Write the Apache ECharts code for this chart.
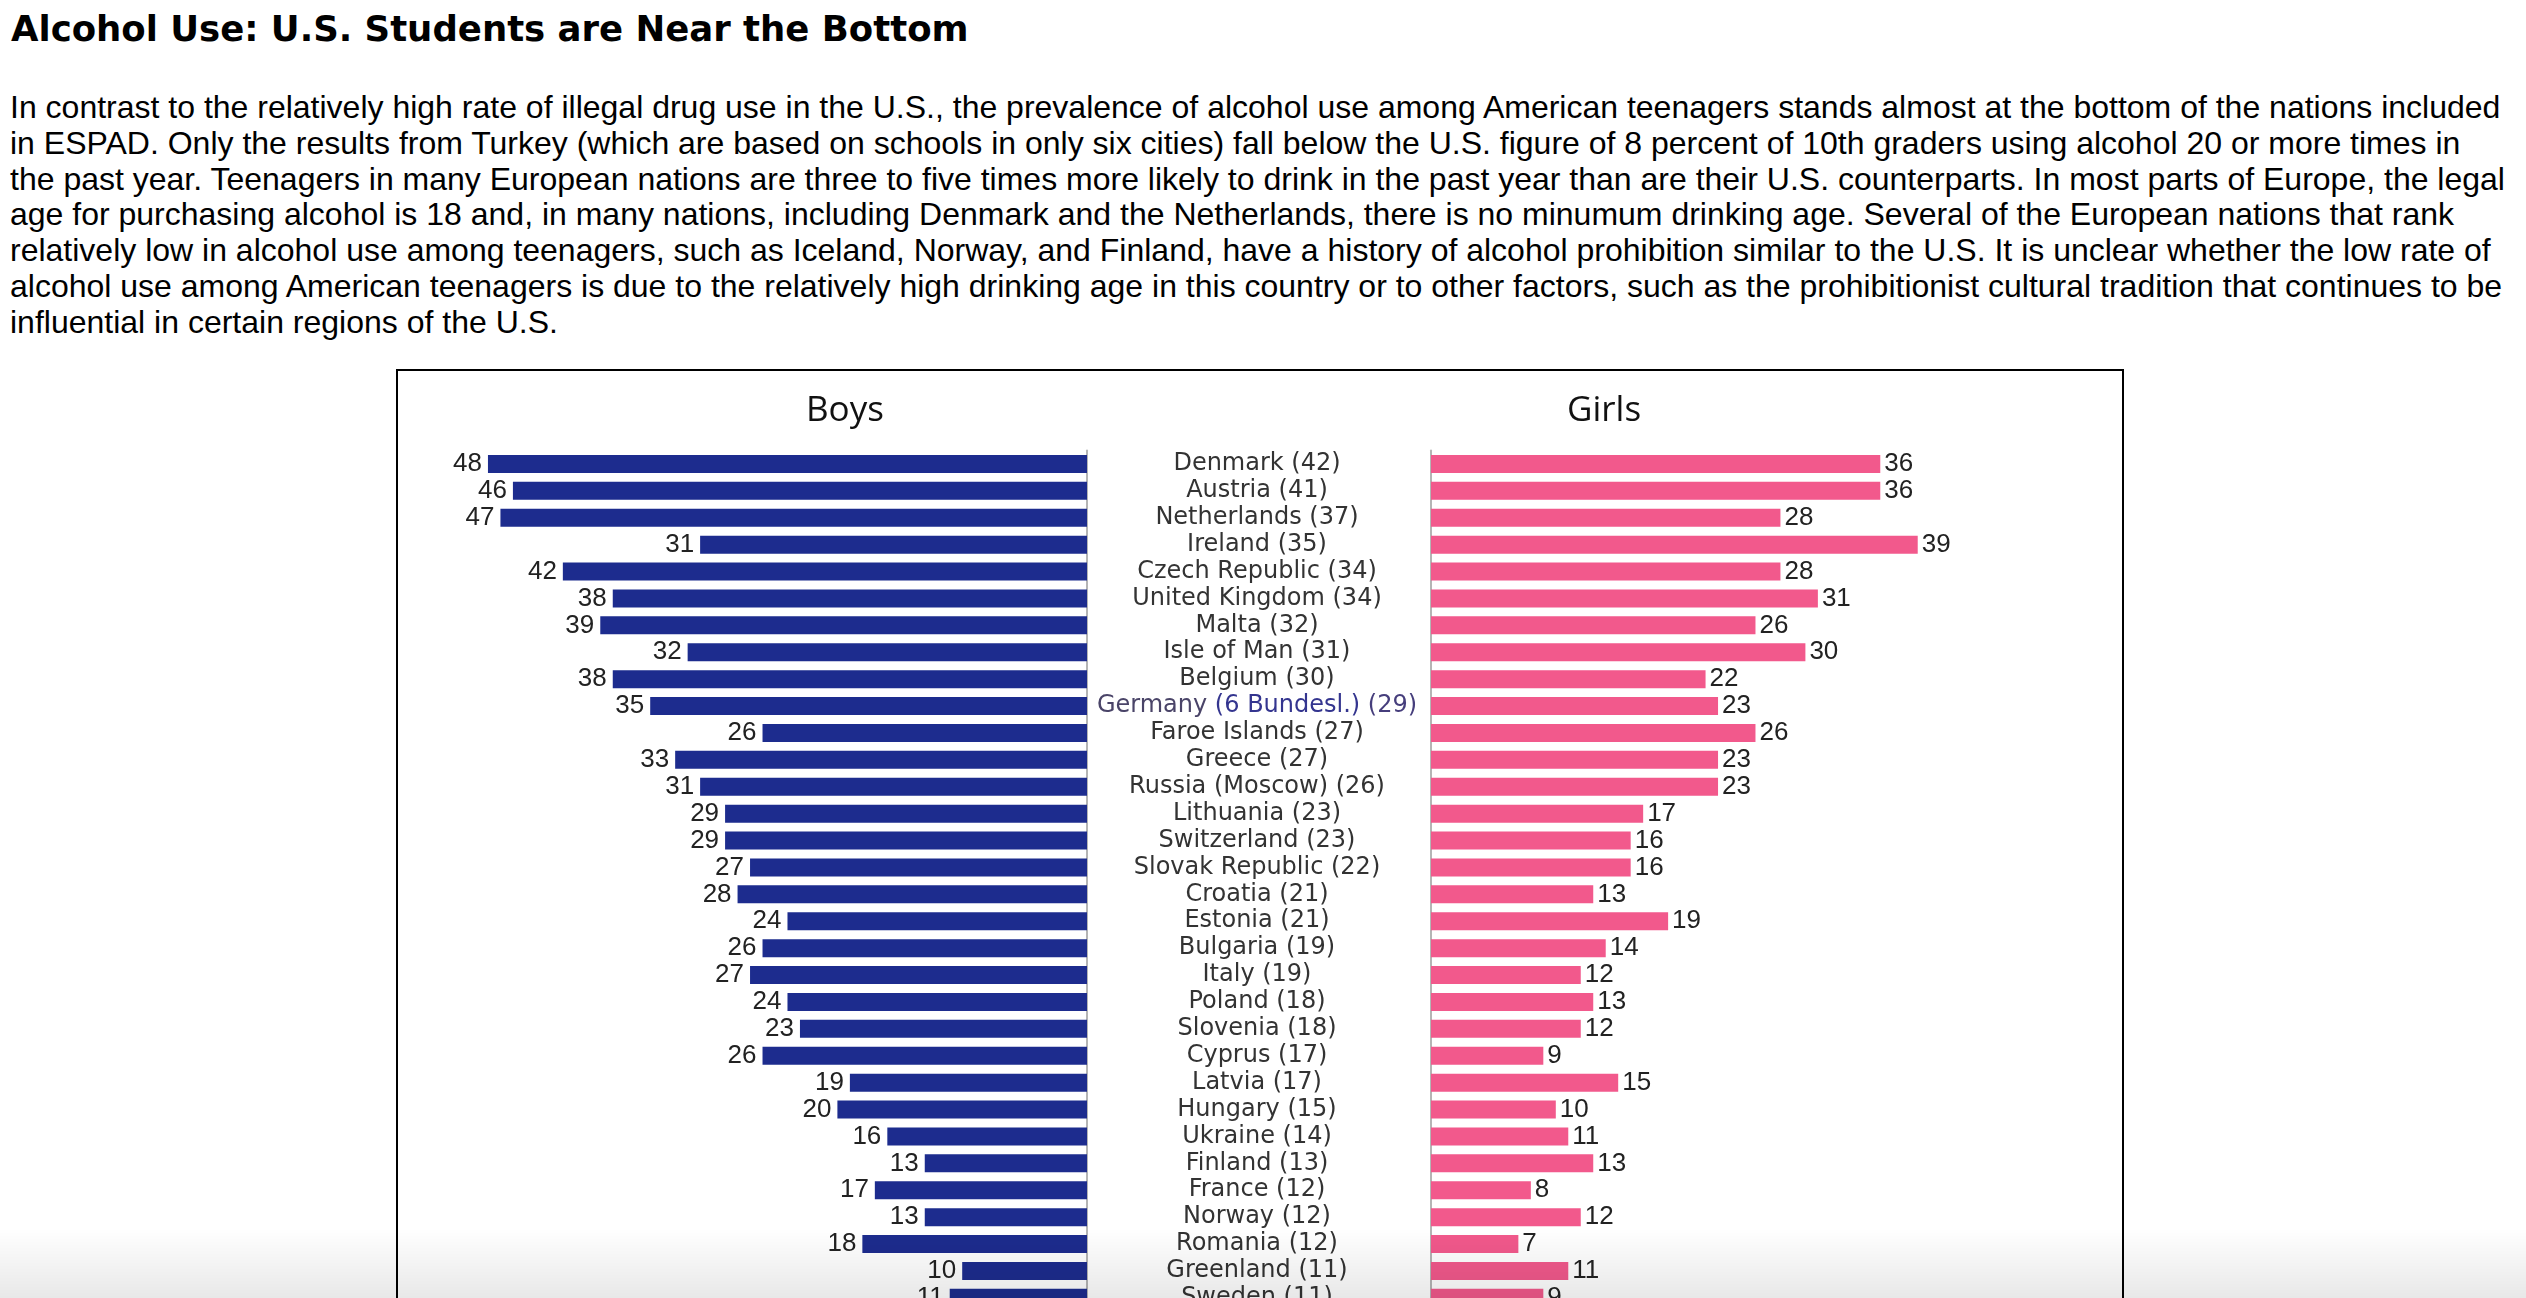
<!DOCTYPE html>
<html>
<head>
<meta charset="utf-8">
<title>Alcohol Use: U.S. Students are Near the Bottom</title>
<script src="https://cdn.jsdelivr.net/npm/echarts@6/dist/echarts.min.js"></script>
<style>
  html, body { margin: 0; padding: 0; background: #fff; overflow: hidden; width: 2526px; height: 1298px; }
  #title { position: absolute; left: 11px; top: 8px; font-family: "DejaVu Sans", Verdana, sans-serif; font-weight: bold; font-size: 35.5px; color: #000; white-space: nowrap; }
  #intro { position: absolute; left: 10px; top: 90px; font-family: "Liberation Sans", Arial, sans-serif; font-size: 32px; line-height: 35.8px; color: #000; white-space: nowrap; }
  #box { position: absolute; left: 396px; top: 369px; width: 1728px; height: 1100px; box-sizing: border-box; border: 2px solid #000; background: #fff; }
  #chart { position: absolute; left: 0; top: 0; width: 1724px; height: 1096px; }
  #fade { position: absolute; left: 0; top: 1228px; width: 2526px; height: 70px; pointer-events: none;
          background: linear-gradient(to bottom, rgba(0,0,0,0), rgba(0,0,0,0.09)); }
</style>
</head>
<body>
<div id="title">Alcohol Use: U.S. Students are Near the Bottom</div>
<div id="intro">In contrast to the relatively high rate of illegal drug use in the U.S., the prevalence of alcohol use among American teenagers stands almost at the bottom of the nations included<br>in ESPAD. Only the results from Turkey (which are based on schools in only six cities) fall below the U.S. figure of 8 percent of 10th graders using alcohol 20 or more times in<br>the past year. Teenagers in many European nations are three to five times more likely to drink in the past year than are their U.S. counterparts. In most parts of Europe, the legal<br>age for purchasing alcohol is 18 and, in many nations, including Denmark and the Netherlands, there is no minumum drinking age. Several of the European nations that rank<br>relatively low in alcohol use among teenagers, such as Iceland, Norway, and Finland, have a history of alcohol prohibition similar to the U.S. It is unclear whether the low rate of<br>alcohol use among American teenagers is due to the relatively high drinking age in this country or to other factors, such as the prohibitionist cultural tradition that continues to be<br>influential in certain regions of the U.S.</div>
<div id="box"><div id="chart"></div></div>
<div id="fade"></div>
<script>
// countries with overall rate in brackets, as printed in the figure
const countries = [
  "Denmark (42)", "Austria (41)", "Netherlands (37)", "Ireland (35)", "Czech Republic (34)",
  "United Kingdom (34)", "Malta (32)", "Isle of Man (31)", "Belgium (30)", "Germany (6 Bundesl.) (29)",
  "Faroe Islands (27)", "Greece (27)", "Russia (Moscow) (26)", "Lithuania (23)", "Switzerland (23)",
  "Slovak Republic (22)", "Croatia (21)", "Estonia (21)", "Bulgaria (19)", "Italy (19)",
  "Poland (18)", "Slovenia (18)", "Cyprus (17)", "Latvia (17)", "Hungary (15)",
  "Ukraine (14)", "Finland (13)", "France (12)", "Norway (12)", "Romania (12)",
  "Greenland (11)", "Sweden (11)"
];
const boys = [48, 46, 47, 31, 42, 38, 39, 32, 38, 35, 26, 33, 31, 29, 29, 27, 28, 24, 26, 27, 24, 23, 26, 19, 20, 16, 13, 17, 13, 18, 10, 11];
const girls = [36, 36, 28, 39, 28, 31, 26, 30, 22, 23, 26, 23, 23, 17, 16, 16, 13, 19, 14, 12, 13, 12, 9, 15, 10, 11, 13, 8, 12, 7, 11, 9];
const panelTitles = ["Boys", "Girls"];

let myChart = echarts.init(document.getElementById("chart"));

const rowH = 26.9;
const gridTop = 79.5;
const gridH = rowH * countries.length;
const barLen = 624;   // 50 units

const valueLabel = {
  show: true,
  fontFamily: "Liberation Sans",
  fontSize: 26,
  color: "#222"
};

let option = {
  animation: false,
  graphic: [
    { type: "text", left: 448 - 40, top: 23, style: { text: panelTitles[0], font: "35px 'Open Sans'", fill: "#111", textAlign: "center" } },
    { type: "text", left: 1206 - 37, top: 23, style: { text: panelTitles[1], font: "35px 'Open Sans'", fill: "#111", textAlign: "center" } }
  ],
  grid: [
    { left: 65, top: gridTop, width: barLen, height: gridH },
    { left: 1033, top: gridTop, width: barLen, height: gridH }
  ],
  xAxis: [
    { gridIndex: 0, type: "value", min: 0, max: 50, inverse: true, show: false },
    { gridIndex: 1, type: "value", min: 0, max: 50, show: false }
  ],
  yAxis: [
    {
      gridIndex: 0, type: "category", data: countries, inverse: true, position: "right",
      axisLine: { show: true, lineStyle: { color: "#b5b5b5", width: 2 } },
      axisTick: { show: false }, axisLabel: { show: false }, splitLine: { show: false }
    },
    {
      gridIndex: 1, type: "category", data: countries, inverse: true, position: "left",
      axisLine: { show: true, lineStyle: { color: "#b5b5b5", width: 2 } },
      axisTick: { show: false }, splitLine: { show: false },
      axisLabel: {
        interval: 0,
        margin: 174,
        align: "center",
        fontFamily: "DejaVu Sans",
        fontSize: 24,
        color: "#333",
        formatter: function (v) {
          // the German entry is printed in two shades in the source
          let m = v.match(/^(Germany )(\(.*?\))( \(\d+\))$/);
          if (m) return "{g1|" + m[1] + "}{g2|" + m[2] + "}{g3|" + m[3] + "}";
          return v;
        },
        rich: {
          g1: { fontFamily: "DejaVu Sans", fontSize: 24, color: "#4a4468" },
          g2: { fontFamily: "DejaVu Sans", fontSize: 24, color: "#34358f" },
          g3: { fontFamily: "DejaVu Sans", fontSize: 24, color: "#463e7c" }
        }
      }
    }
  ],
  series: [
    {
      name: "Boys", type: "bar", xAxisIndex: 0, yAxisIndex: 0, data: boys,
      barWidth: 18,
      itemStyle: { color: "#1d2c8e" },
      label: Object.assign({}, valueLabel, { position: "left", distance: 6 })
    },
    {
      name: "Girls", type: "bar", xAxisIndex: 1, yAxisIndex: 1, data: girls,
      barWidth: 18,
      itemStyle: { color: "#f2598c" },
      label: Object.assign({}, valueLabel, { position: "right", distance: 4 })
    }
  ]
};
myChart.setOption(option, true);
</script>
</body>
</html>
